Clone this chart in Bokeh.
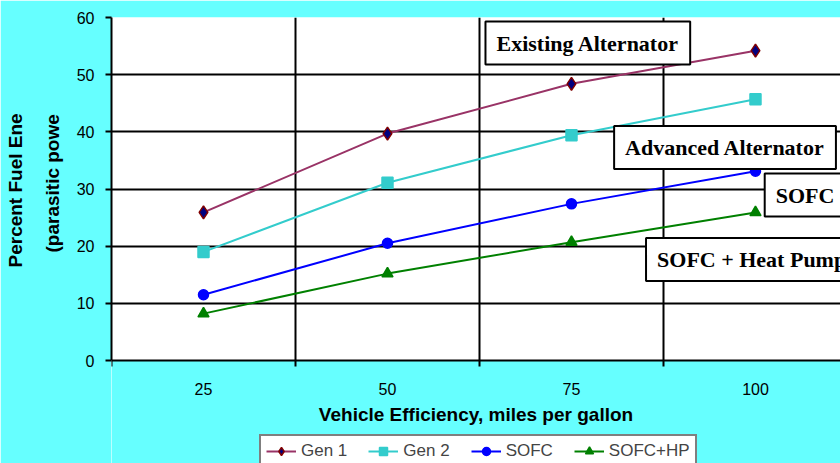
from bokeh.plotting import figure
from bokeh.models import (Range1d, FixedTicker, Label, Legend, LegendItem, Title,
                          LinearAxis)
from bokeh.embed import file_html
from bokeh.resources import INLINE

# ---- data ----
mpg = [25, 50, 75, 100]
gen1 = [25.9, 39.7, 48.4, 54.2]
gen2 = [19.0, 31.1, 39.4, 45.7]
sofc = [11.5, 20.5, 27.4, 33.1]
sofc_hp = [8.2, 15.2, 20.7, 25.9]
series_names = ["Gen 1", "Gen 2", "SOFC", "SOFC+HP"]
annotation_texts = ["Existing Alternator", "Advanced Alternator", "SOFC", "SOFC + Heat Pump"]
y_ticks = [0, 10, 20, 30, 40, 50, 60]
x_label = "Vehicle Efficiency, miles per gallon"
y_label_lines = ["Percent Fuel Ene", "(parasitic powe"]

# ---- layout constants (pixels) ----
W, H = 840, 463
FRAME_L, FRAME_T, ZERO_Y = 109, 17, 360
PX_PER_X = 7.38
PX_PER_Y = (ZERO_Y - FRAME_T) / 60.0
X0 = 12.5
X1 = X0 + (W - FRAME_L) / PX_PER_X
Y0 = -(H - ZERO_Y) / PX_PER_Y


def xd(px):
    return X0 + (px - FRAME_L) / PX_PER_X


def yd(py):
    return (ZERO_Y - py) / PX_PER_Y


CYAN = "#66FFFF"
SANS = "Liberation Sans"
SERIF = "Liberation Serif"

p = figure(width=W, height=H, output_backend="svg", toolbar_location=None,
           x_range=Range1d(X0, X1), y_range=Range1d(Y0, 60),
           x_axis_location=None,
           min_border_left=FRAME_L, min_border_right=0,
           min_border_top=FRAME_T, min_border_bottom=0,
           background_fill_color="white", border_fill_color=CYAN,
           outline_line_color=None)

# grids
boundaries = [X0 + 25 * i for i in range(5)]
p.xgrid.ticker = FixedTicker(ticks=boundaries[1:])
p.xgrid.grid_line_color = "black"
p.xgrid.grid_line_width = 2
p.ygrid.ticker = FixedTicker(ticks=y_ticks[1:])
p.ygrid.grid_line_color = "black"
p.ygrid.grid_line_width = 2

# the area below the value 0 belongs to the (cyan) page, not to the plot area
p.quad(left=X0, right=X1, bottom=Y0, top=0, fill_color=CYAN, line_color=None)

# x axis, drawn at value 0
xaxis = LinearAxis(fixed_location=0, ticker=FixedTicker(ticks=mpg, minor_ticks=boundaries))
xaxis.major_tick_out = 0
xaxis.major_tick_in = 0
xaxis.minor_tick_out = 6
xaxis.minor_tick_in = 0
xaxis.minor_tick_line_color = "black"
xaxis.minor_tick_line_width = 2
xaxis.axis_line_color = "black"
xaxis.axis_line_width = 2
xaxis.major_label_standoff = 16
xaxis.major_label_text_font = SANS
xaxis.major_label_text_font_size = "16px"
xaxis.major_label_text_color = "black"
xaxis.axis_label = x_label
xaxis.axis_label_text_font = SANS
xaxis.axis_label_text_font_style = "bold"
xaxis.axis_label_text_font_size = "19px"
xaxis.axis_label_text_color = "black"
xaxis.axis_label_standoff = 6
p.add_layout(xaxis, "below")

# y axis
p.yaxis.ticker = FixedTicker(ticks=y_ticks)
p.yaxis.bounds = (0, 60)
p.yaxis.major_tick_out = 6
p.yaxis.major_tick_in = 0
p.yaxis.minor_tick_out = 0
p.yaxis.minor_tick_in = 0
p.yaxis.major_tick_line_color = "black"
p.yaxis.major_tick_line_width = 2
p.yaxis.axis_line_color = "black"
p.yaxis.axis_line_width = 2
p.yaxis.major_label_standoff = 11
p.yaxis.major_label_text_font = SANS
p.yaxis.major_label_text_font_size = "16px"
p.yaxis.major_label_text_color = "black"

# y axis title: two rotated lines in the left panel (inner line first)
for txt, so, start in [(y_label_lines[1], 22, 252), (y_label_lines[0], 5, 267)]:
    p.add_layout(Title(text=txt, align="left", offset=H - start, text_font=SANS,
                       text_font_style="bold", text_font_size="19px",
                       text_color="black", standoff=so), "left")

# series
styles = [
    dict(line="#993366", marker="diamond", fill="#000080", mline="#800000", size=13),
    dict(line="#33CCCC", marker="square", fill="#33CCCC", mline="#33CCCC", size=11),
    dict(line="#0000FF", marker="circle", fill="#0000FF", mline="#0000FF", size=10),
    dict(line="#008000", marker="triangle", fill="#008000", mline="#008000", size=11),
]
items = []
for name, ys, st in zip(series_names, [gen1, gen2, sofc, sofc_hp], styles):
    lr = p.line(mpg, ys, line_color=st["line"], line_width=2)
    sr = p.scatter(mpg, ys, marker=st["marker"], size=st["size"],
                   fill_color=st["fill"], line_color=st["mline"], line_width=1.5)
    items.append(LegendItem(label=name, renderers=[lr, sr]))

legend = Legend(items=items, orientation="horizontal", location=(148, -5),
                border_line_color="black", border_line_width=2,
                background_fill_color="white", background_fill_alpha=1,
                label_text_font=SANS, label_text_font_size="17px",
                glyph_width=30, glyph_height=20, label_standoff=5,
                spacing=21, padding=5, margin=0)
p.add_layout(legend, "center")

# annotation boxes (x = left edge of box, y = vertical centre)
ann_pos = [(484, 42.5), (613, 147), (764, 194.5), (645, 259)]
for txt, (px, py) in zip(annotation_texts, ann_pos):
    p.add_layout(Label(x=xd(px), y=yd(py), text=txt, text_align="left",
                       text_baseline="middle", text_font=SERIF,
                       text_font_style="bold", text_font_size="22px",
                       text_color="black",
                       background_fill_color="white", background_fill_alpha=1,
                       border_line_color="black", border_line_width=2,
                       padding=dict(left=11, right=11, top=9, bottom=9)))

open("out.html", "w").write(file_html(p, INLINE))
